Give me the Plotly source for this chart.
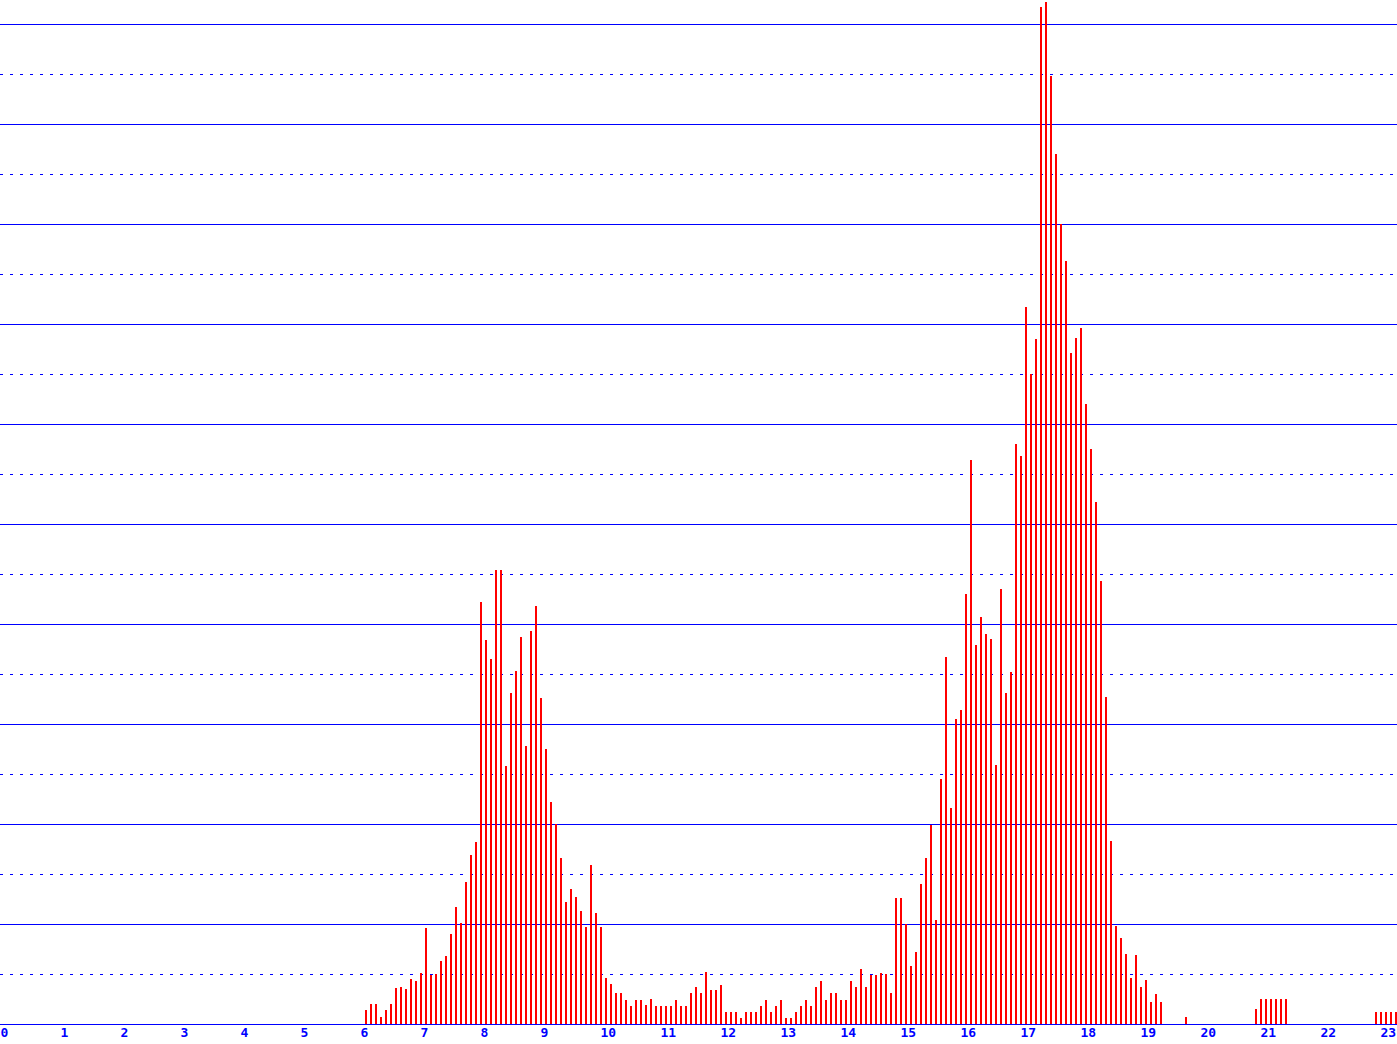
import plotly.graph_objects as go

# one row per hour, 12 five-minute slots per row (bar heights)
hours = list(range(6, 24))
slot_values = [
    [1.4, 2.0, 2.0, 0.7, 1.4, 2.0, 3.6, 3.7, 3.5, 4.5, 4.3, 5.1],            # 6
    [9.6, 4.9, 5.0, 6.3, 6.8, 9.0, 11.7, 10.1, 14.2, 16.9, 18.2, 42.2],      # 7
    [38.4, 36.5, 45.4, 45.4, 25.8, 33.1, 35.3, 38.7, 27.8, 39.3, 41.8, 32.6],  # 8
    [27.5, 22.2, 20.0, 16.6, 12.2, 13.5, 12.7, 11.3, 9.7, 15.9, 11.1, 9.7],  # 9
    [4.6, 4.0, 3.1, 3.1, 2.4, 1.8, 2.4, 2.4, 1.9, 2.5, 1.8, 1.8],            # 10
    [1.8, 1.8, 2.4, 1.8, 1.8, 3.1, 3.7, 3.1, 5.2, 3.4, 3.4, 3.9],            # 11
    [1.2, 1.2, 1.2, 0.6, 1.2, 1.2, 1.2, 1.8, 2.4, 1.2, 1.8, 2.4],            # 12
    [0.6, 0.6, 1.2, 1.8, 2.4, 1.8, 3.7, 4.3, 2.4, 3.1, 3.1, 2.4],            # 13
    [2.4, 4.3, 3.7, 5.5, 3.7, 4.9, 4.9, 5.1, 5.0, 3.1, 12.6, 12.6],          # 14
    [10.0, 5.8, 7.2, 14.0, 16.6, 19.9, 10.4, 24.5, 36.7, 21.6, 30.5, 31.4],  # 15
    [43.0, 56.4, 37.9, 40.7, 39.0, 38.5, 25.9, 43.5, 33.1, 35.2, 58.0, 56.8],  # 16
    [71.7, 65.0, 68.5, 101.7, 102.2, 94.8, 87.0, 80.0, 76.3, 67.1, 68.6, 69.6],  # 17
    [62.0, 57.5, 52.2, 44.3, 32.7, 18.3, 9.8, 8.6, 7.0, 4.6, 6.9, 3.7],      # 18
    [4.4, 2.2, 3.0, 2.2, 0, 0, 0, 0, 0.7, 0, 0, 0],                          # 19
    [0, 0, 0, 0, 0, 0, 0, 0, 0, 0, 1.5, 2.5],                                # 20
    [2.5, 2.5, 2.5, 2.5, 2.5, 0, 0, 0, 0, 0, 0, 0],                          # 21
    [0, 0, 0, 0, 0, 0, 0, 0, 0, 0, 1.2, 1.2],                                # 22
    [1.2, 1.2, 1.2],                                                         # 23
]
tick_hours = list(range(0, 24))
tick_labels = [str(h) for h in tick_hours]

times = []
values = []
for h, row in zip(hours, slot_values):
    for k, v in enumerate(row):
        times.append(h + k / 12)
        values.append(v)

BLUE = '#0000FF'
RED = '#FF0000'

fig = go.Figure(go.Bar(
    x=times,
    y=values,
    width=2 / 60,
    offset=5 / 60,
    marker=dict(color=RED, line=dict(width=0)),
    hoverinfo='skip',
))

fig.update_layout(
    width=1397,
    height=1044,
    margin=dict(l=0, r=0, t=0, b=20),
    paper_bgcolor='white',
    plot_bgcolor='white',
    showlegend=False,
    bargap=0,
)
fig.update_xaxes(
    range=[0, 1397 / 60],
    tickvals=tick_hours,
    ticktext=tick_labels,
    ticklabelposition='outside right',
    ticklabelstandoff=-4,
    ticks='',
    showgrid=False,
    zeroline=False,
    showline=True,
    linecolor=BLUE,
    linewidth=1,
    tickfont=dict(family='DejaVu Sans Mono', size=13, color=BLUE, weight='bold'),
)
fig.update_yaxes(
    range=[0, 102.4],
    tick0=0,
    dtick=10,
    showticklabels=False,
    ticks='',
    showgrid=True,
    gridcolor=BLUE,
    gridwidth=1,
    zeroline=False,
    minor=dict(dtick=5, tick0=0, showgrid=True, gridcolor=BLUE, gridwidth=1,
               griddash='3px,7px'),
)

fig.write_html(
    'out.html',
    config={'displayModeBar': False},
    post_script="document.body.style.margin='0';document.body.style.overflow='hidden';",
)
